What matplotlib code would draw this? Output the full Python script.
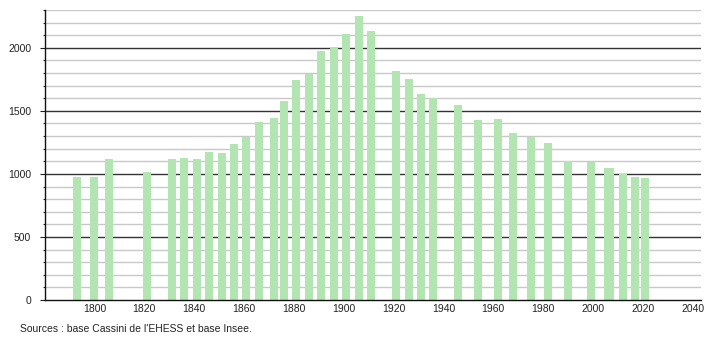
import matplotlib.pyplot as plt
import numpy as np
from matplotlib.ticker import MultipleLocator

plt.rcParams['font.family'] = ['Liberation Sans', 'DejaVu Sans']

years = [1793, 1800, 1806, 1821, 1831, 1836, 1841, 1846, 1851, 1856, 1861,
         1866, 1872, 1876, 1881, 1886, 1891, 1896, 1901, 1906, 1911, 1921,
         1926, 1931, 1936, 1946, 1954, 1962, 1968, 1975, 1982, 1990, 1999,
         2006, 2007, 2012, 2017, 2021]
population = [976, 975, 1119, 1016, 1117, 1127, 1119, 1175, 1167, 1238, 1291,
              1413, 1444, 1579, 1746, 1794, 1976, 2008, 2111, 2254, 2135, 1817,
              1754, 1635, 1603, 1548, 1429, 1437, 1325, 1294, 1246, 1103, 1093,
              1048, 1045, 1000, 974, 966]
xticks = [1800, 1820, 1840, 1860, 1880, 1900, 1920, 1940, 1960, 1980, 2000, 2020, 2040]
yticks = [0, 500, 1000, 1500, 2000]
source = "Sources : base Cassini de l'EHESS et base Insee."

fig = plt.figure(figsize=(7.1, 3.4), dpi=100)
ax = fig.add_axes([0.0627, 0.1176, 0.9246, 0.853])

# grid lines: light every 100, dark every 500
for v in range(100, 2400, 100):
    if v % 500 == 0:
        ax.axhline(v, color='#333333', lw=1.0, zorder=1)
    else:
        ax.axhline(v, color='#c8c8c8', lw=1.0, zorder=1)

ax.bar(years, population, width=3.2, color='#b3e5b3', zorder=2)

ax.set_xlim(1780, 2043.3)
ax.set_ylim(0, 2300)
ax.set_xticks(xticks)
ax.set_yticks(yticks)
ax.yaxis.set_minor_locator(MultipleLocator(100))
ax.tick_params(axis='x', length=0, pad=3, labelsize=7.5, colors='#222222')
ax.tick_params(axis='y', which='major', length=3.6, width=0.8, pad=6, labelsize=7.5, colors='#222222')
ax.tick_params(axis='y', which='minor', length=1.5, width=0.8, color='#222222')

for s in ['top', 'right']:
    ax.spines[s].set_visible(False)
ax.spines['left'].set_color('#111111')
ax.spines['bottom'].set_color('#111111')
ax.spines['left'].set_linewidth(1.0)
ax.spines['bottom'].set_linewidth(1.0)

fig.text(20 / 710, 1 - 329 / 340, source, fontsize=7.5, color='#222222', va='center', ha='left')

fig.savefig('out.png', dpi=100)
